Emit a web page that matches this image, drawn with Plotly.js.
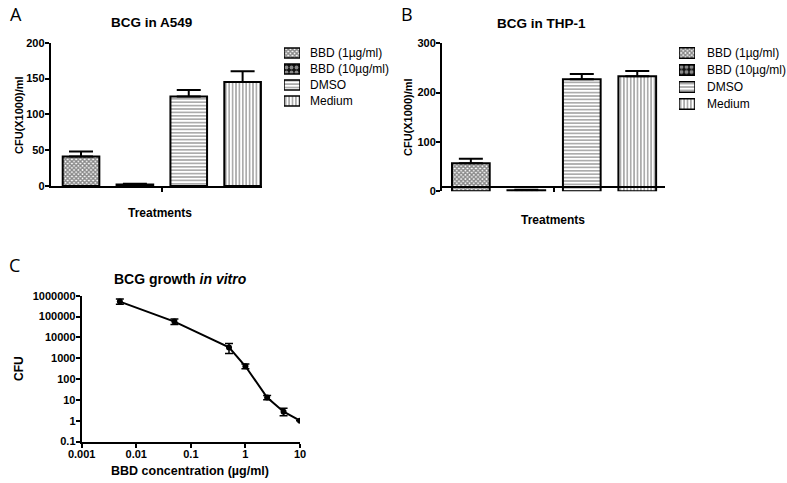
<!DOCTYPE html>
<html><head><meta charset="utf-8">
<script src="https://cdn.plot.ly/plotly-3.0.1.min.js"></script>
<style>html,body{margin:0;padding:0;background:#fff}#chart{width:787px;height:483px}</style>
</head><body><div id="chart"></div>
<script>
// ---- data ----
const treatments = ["BBD (1µg/ml)", "BBD (10µg/ml)", "DMSO", "Medium"];
const a549Values = [41, 2, 125, 145];
const a549Errors = [7, 1, 9, 15];
const thp1Values = [57, 2, 227, 233];
const thp1Errors = [9, 1, 11, 11];
const concentrations = [0.005, 0.05, 0.5, 1, 2.5, 5, 10];
const cfuValues = [520000, 57000, 3300, 410, 13, 2.7, 1];
const cfuErrPlus = [170000, 20000, 1800, 120, 3, 1.2, 0];
const cfuErrMinus = [130000, 15000, 1600, 95, 3, 1.0, 0];
const yTicksC = [0.1, 1, 10, 100, 1000, 10000, 100000, 1000000];
const xTicksC = [0.001, 0.01, 0.1, 1, 10];

// ---- styling ----
const W = 787, H = 483;
const FONT = "Liberation Sans, Arial, sans-serif";
const px = v => v / W;
const py = v => 1 - v / H;
const patterns = [
  {shape: "x", size: 3, solidity: 0.7, fgcolor: "#111", bgcolor: "#fff", fillmode: "overlay"},
  {shape: ".", size: 5, solidity: 0.45, fgcolor: "#fff", bgcolor: "#111", fillmode: "overlay"},
  {shape: "-", size: 3.4, solidity: 0.35, fgcolor: "#111", bgcolor: "#fff", fillmode: "overlay"},
  {shape: "|", size: 3.4, solidity: 0.35, fgcolor: "#111", bgcolor: "#fff", fillmode: "overlay"}
];

const traces = [];
function addBars(values, errors, xa, ya) {
  values.forEach((v, i) => {
    traces.push({
      type: "bar", x: [i], y: [v], name: treatments[i],
      xaxis: xa, yaxis: ya, showlegend: false, width: 0.68,
      marker: {color: "#fff", pattern: patterns[i], line: {color: "#000", width: 2}},
      error_y: {type: "data", symmetric: false, array: [errors[i]], arrayminus: [0],
                color: "#000", thickness: 2, width: 12},
      hoverinfo: "skip"
    });
  });
}
addBars(a549Values, a549Errors, "x", "y");
addBars(thp1Values, thp1Errors, "x2", "y2");

// legend swatches (one per treatment) drawn as tiny horizontal bars
function addSwatches(xa, ya) {
  treatments.forEach((t, i) => {
    traces.push({
      type: "bar", orientation: "h", y: [i], x: [1], name: t, width: 0.62,
      xaxis: xa, yaxis: ya, showlegend: false, hoverinfo: "skip",
      marker: {color: "#fff", pattern: patterns[i], line: {color: "#000", width: 1.5}}
    });
  });
}
addSwatches("x4", "y4");
addSwatches("x5", "y5");

traces.push({
  type: "scatter", mode: "lines+markers", x: concentrations, y: cfuValues,
  xaxis: "x3", yaxis: "y3", showlegend: false,
  line: {color: "#000", width: 2}, marker: {color: "#000", size: 6},
  error_y: {type: "data", symmetric: false, array: cfuErrPlus, arrayminus: cfuErrMinus,
            color: "#000", thickness: 1.5, width: 4}
});

const axisBase = {
  showline: true, linecolor: "#000", linewidth: 2, ticks: "outside", ticklen: 4,
  tickwidth: 2, tickcolor: "#000", showgrid: false, zeroline: false,
  tickfont: {family: FONT, size: 11, color: "#000", weight: "bold"}, fixedrange: true
};
const catAxis = (dom, range) => Object.assign({}, axisBase, {
  domain: dom, range: range, tickmode: "array", tickvals: [1.5], ticktext: [""], ticklen: 4
});
const hidden = (dom, range, anchor) => ({domain: dom, range: range, anchor: anchor, visible: false,
  showgrid: false, zeroline: false, fixedrange: true});

const ann = (text, x, y, size, extra) => Object.assign({
  text: text, x: px(x), y: py(y), xref: "paper", yref: "paper", showarrow: false,
  xanchor: "center", yanchor: "middle",
  font: {family: FONT, size: size, color: "#000", weight: "bold"}
}, extra || {});
const letterFont = {family: "Open Sans, sans-serif", size: 18, color: "#000"};
const legFont = {family: FONT, size: 12, color: "#000"};

const annotations = [
  ann("A", 16, 14, 18, {font: letterFont}),
  ann("B", 407, 14, 18, {font: letterFont}),
  ann("C", 14, 265, 18, {font: letterFont}),
  ann("BCG in A549", 151, 22, 13.5),
  ann("BCG in THP-1", 541, 23, 13.5),
  ann("BCG growth <i>in vitro</i>", 180, 279, 14),
  ann("CFU(X1000)/ml", 19, 115, 11, {textangle: -90}),
  ann("CFU(X1000)/ml", 408, 117, 11, {textangle: -90}),
  ann("CFU", 19, 369, 12, {textangle: -90}),
  ann("Treatments", 160, 213, 12),
  ann("Treatments", 553, 220, 12),
  ann("BBD concentration (µg/ml)", 190, 471, 12.5)
];
const rowsA = [53, 69, 85, 101], rowsB = [53, 70, 87, 104];
treatments.forEach((t, i) => {
  annotations.push(ann(t, 308, rowsA[i], 12, {xanchor: "left", font: legFont}));
  annotations.push(ann(t, 705, rowsB[i], 12, {xanchor: "left", font: legFont}));
});

const layout = {
  width: W, height: H, margin: {l: 0, r: 0, t: 0, b: 0},
  paper_bgcolor: "#fff", plot_bgcolor: "rgba(0,0,0,0)", barmode: "overlay",
  showlegend: false,
  xaxis: catAxis([px(50.7), px(262)], [-0.563, 3.36]),
  yaxis: Object.assign({}, axisBase, {domain: [py(186), py(42.7)], range: [0, 200], tickvals: [0, 50, 100, 150, 200], ticklabelstandoff: -2}),
  xaxis2: catAxis([px(442), px(665)], [-0.52, 3.5]),
  yaxis2: Object.assign({}, axisBase, {domain: [py(191.3), py(43.3)], range: [0, 300], tickvals: [0, 100, 200, 300], anchor: "x2", ticklabelstandoff: -2}),
  xaxis3: Object.assign({}, axisBase, {domain: [px(81.7), px(300)], type: "log", range: [-3, 1],
            tickvals: xTicksC, ticktext: xTicksC.map(String), anchor: "y3", ticklabelstandoff: -3}),
  yaxis3: Object.assign({}, axisBase, {domain: [py(441.5), py(295.7)], type: "log", range: [-1, 6],
            tickvals: yTicksC, ticktext: yTicksC.map(String), anchor: "x3", ticklabelstandoff: -2}),
  xaxis4: hidden([px(284), px(300)], [0, 1], "y4"),
  yaxis4: hidden([py(109), py(45)], [3.5, -0.5], "x4"),
  xaxis5: hidden([px(679), px(695)], [0, 1], "y5"),
  yaxis5: hidden([py(112.5), py(44.5)], [3.5, -0.5], "x5"),
  annotations: annotations
};

Plotly.newPlot("chart", traces, layout, {displayModeBar: false, staticPlot: true});
</script>
</body></html>
